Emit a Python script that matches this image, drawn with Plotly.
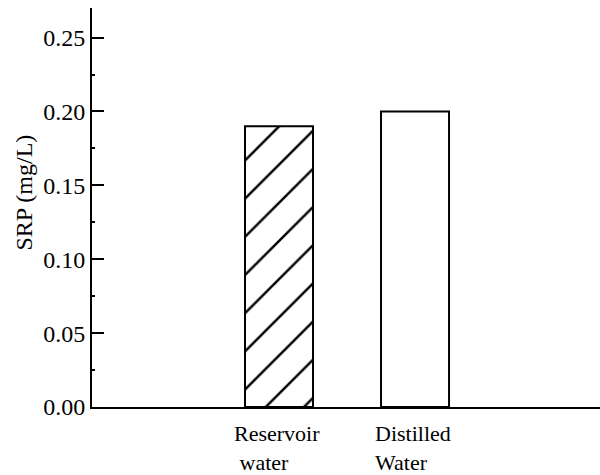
import plotly.graph_objects as go

# Soluble reactive phosphorus measured in two water types
categories = ["Reservoir water", "Distilled Water"]
label_lines = [["Reservoir", "\u00a0water"], ["Distilled", "Water"]]
srp_values = [0.19, 0.20]
bar_patterns = ["/", ""]

y_tickvals = [0.00, 0.05, 0.10, 0.15, 0.20, 0.25]
y_ticktext = ["0.00", "0.05", "0.10", "0.15", "0.20", "0.25"]
y_title = "SRP (mg/L)"

FONT = "Liberation Serif, Times New Roman, serif"
positions = list(range(len(categories)))

fig = go.Figure(
    go.Bar(
        x=positions,
        y=srp_values,
        width=0.5,
        marker=dict(
            color="white",
            line=dict(color="black", width=2),
            pattern=dict(
                shape=bar_patterns,
                fgcolor="black",
                fgopacity=1,
                bgcolor="white",
                size=27,
                solidity=0.09,
            ),
        ),
        showlegend=False,
    )
)

# Two-line category labels under each bar
for pos, lines in zip(positions, label_lines):
    fig.add_annotation(
        x=pos,
        y=0,
        xref="x",
        yref="paper",
        xanchor="center",
        yanchor="top",
        xshift=-2,
        yshift=-12,
        align="left",
        showarrow=False,
        text="<br>".join(lines),
        font=dict(family=FONT, size=22, color="black"),
    )

# Rotated y-axis title
fig.add_annotation(
    x=0,
    y=0.5,
    xref="paper",
    yref="paper",
    xanchor="center",
    yanchor="middle",
    xshift=-69,
    yshift=15,
    textangle=-90,
    showarrow=False,
    text=y_title,
    font=dict(family=FONT, size=24, color="black"),
)

fig.update_layout(
    width=600,
    height=475,
    margin=dict(l=92, r=0, t=8, b=68),
    paper_bgcolor="white",
    plot_bgcolor="white",
    font=dict(family=FONT, size=24, color="black"),
    xaxis=dict(
        range=[-1.375, 2.36],
        showticklabels=False,
        ticks="",
        showgrid=False,
        zeroline=False,
        showline=True,
        linecolor="black",
        linewidth=2,
    ),
    yaxis=dict(
        range=[0, 0.27],
        tickvals=y_tickvals,
        ticktext=y_ticktext,
        ticks="inside",
        ticklen=12,
        tickwidth=2,
        tickcolor="black",
        minor=dict(
            tickvals=[0.025, 0.075, 0.125, 0.175, 0.225],
            ticks="inside",
            ticklen=3,
            tickwidth=2,
            tickcolor="black",
            showgrid=False,
        ),
        showgrid=False,
        zeroline=False,
        showline=True,
        linecolor="black",
        linewidth=2,
        tickfont=dict(family=FONT, size=24, color="black"),
    ),
)

fig.write_html("out.html")
